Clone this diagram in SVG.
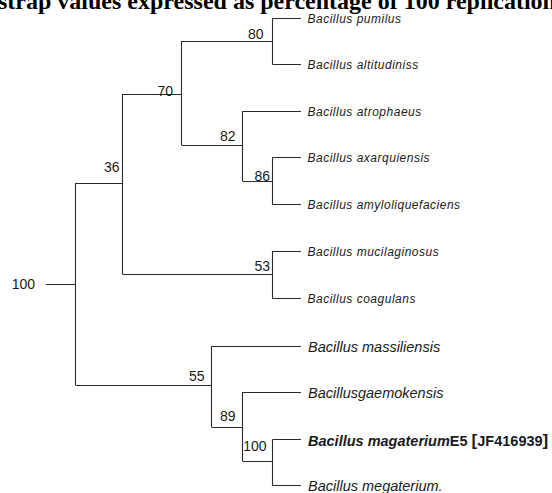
<svg xmlns="http://www.w3.org/2000/svg" width="552" height="493" viewBox="0 0 552 493">
<style>
.br{fill:none;stroke:#2a2a2a;stroke-width:1.1}
.tx{font-family:"Liberation Sans",Arial,sans-serif;font-style:italic;font-size:12px;letter-spacing:0.5px;fill:#1a1a1a}
.tl{font-family:"Liberation Sans",Arial,sans-serif;font-style:italic;font-size:14.5px;fill:#1a1a1a}
.bs{font-family:"Liberation Sans",Arial,sans-serif;font-size:14px;fill:#1a1a1a;text-anchor:end}
.title{font-family:"Liberation Serif","Times New Roman",serif;font-weight:bold;font-size:24px;fill:#000}
</style>
<rect width="552" height="493" fill="#fff"/>
<text class="title" x="-2" y="8.5">strap values expressed as percentage of 100 replication</text>
<g id="connectors">
<path class="br" d="M46,284.5 H75.5 M75.5,183 V385 M75.5,183.5 H122.5 M122.5,94 V274 M122.5,94.5 H181.5 M181.5,41 V145 M181.5,41.5 H272.5 M272.5,18.5 V64.5 M272.5,18.5 H301 M272.5,64.5 H301 M181.5,145.5 H242.5 M242.5,111 V181 M242.5,111.5 H301 M242.5,181.5 H272.5 M272.5,157.5 V204.5 M272.5,157.5 H301 M272.5,204.5 H301 M122.5,274.5 H272.5 M272.5,251 V298.5 M272.5,251.5 H301 M272.5,298.5 H301 M75.5,385.5 H211.5 M211.5,346 V427 M211.5,346.5 H301 M211.5,427.5 H242.5 M242.5,392 V461 M242.5,392.5 H301 M242.5,461.5 H272.5 M272.5,439.5 V485.5 M272.5,439.5 H301 M272.5,485.5 H301"/>
</g>
<g id="n-root"><text class="bs" x="35" y="288.5">100</text></g>
<g id="n36"><text class="bs" x="119.5" y="171.5">36</text></g>
<g id="n70"><text class="bs" x="173" y="96">70</text></g>
<g id="n80"><text class="bs" x="263.5" y="39">80</text></g>
<g id="n82"><text class="bs" x="235.5" y="141">82</text></g>
<g id="n86"><text class="bs" x="270" y="180.5">86</text></g>
<g id="n53"><text class="bs" x="270" y="270.5">53</text></g>
<g id="n55"><text class="bs" x="204.5" y="380.5">55</text></g>
<g id="n89"><text class="bs" x="235.5" y="421">89</text></g>
<g id="n100b"><text class="bs" x="266.5" y="451">100</text></g>
<g id="t-pumilus"><text class="tx" x="307.5" y="23">Bacillus pumilus</text></g>
<g id="t-altitudiniss"><text class="tx" x="307.5" y="69">Bacillus altitudiniss</text></g>
<g id="t-atrophaeus"><text class="tx" x="307.5" y="116">Bacillus atrophaeus</text></g>
<g id="t-axarquiensis"><text class="tx" x="307.5" y="162">Bacillus axarquiensis</text></g>
<g id="t-amyloliquefaciens"><text class="tx" x="307.5" y="209">Bacillus amyloliquefaciens</text></g>
<g id="t-mucilaginosus"><text class="tx" x="307.5" y="256">Bacillus mucilaginosus</text></g>
<g id="t-coagulans"><text class="tx" x="307.5" y="303">Bacillus coagulans</text></g>
<g id="t-massiliensis"><text class="tl" x="308" y="351.5">Bacillus massiliensis</text></g>
<g id="t-gaemokensis"><text class="tl" x="308" y="397.5">Bacillusgaemokensis</text></g>
<g id="t-magaterium"><text class="tl" x="308" y="445.5" font-weight="bold" font-size="14.5">Bacillus magaterium<tspan font-style="normal">E5 <tspan font-size="17">[</tspan>JF416939<tspan font-size="17">]</tspan></tspan></text></g>
<g id="t-megaterium"><text class="tl" x="308" y="490.5">Bacillus megaterium.</text></g>
</svg>
